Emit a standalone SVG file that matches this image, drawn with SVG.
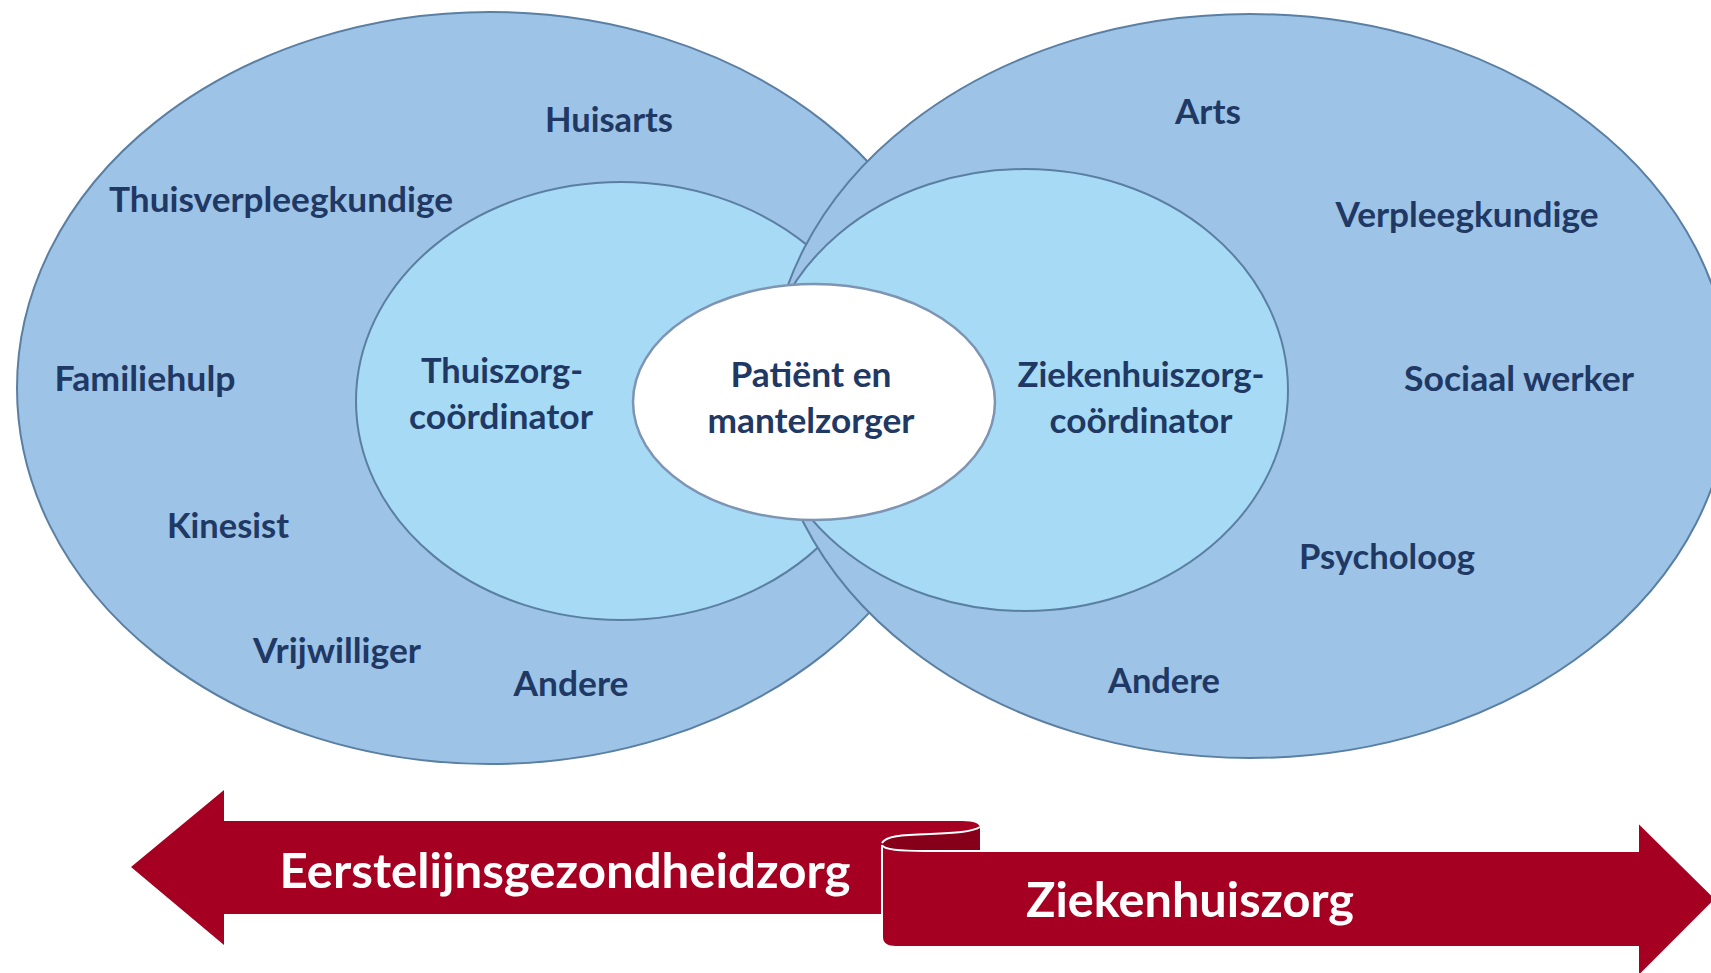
<svg xmlns="http://www.w3.org/2000/svg" width="1711" height="973" viewBox="0 0 1711 973">
<style>
.outer{fill:#9DC3E6;stroke:#5A7FA3;stroke-width:2}
.inner{fill:#A7DAF4;stroke:#5A7FA3;stroke-width:2}
.core{fill:#FFFFFF;stroke:#7D95B3;stroke-width:2.5}
.lbl{font-family:Lato,"Open Sans",sans-serif;font-weight:700;font-size:34px;fill:#1F3864;text-anchor:middle}
.arr{font-family:Lato,"Open Sans",sans-serif;font-weight:700;font-size:48px;fill:#FFFFFF;text-anchor:middle}
.rib{fill:#A50021}
</style>
<rect width="1711" height="973" fill="#FFFFFF"/>
<g id="left-outer"><ellipse class="outer" cx="490" cy="388" rx="473" ry="376"/></g>
<g id="left-inner"><ellipse class="inner" cx="621" cy="401" rx="265" ry="219"/></g>
<g id="right-outer"><ellipse class="outer" cx="1250" cy="386" rx="480" ry="372"/></g>
<g id="right-inner"><ellipse class="inner" cx="1025" cy="390" rx="263" ry="221"/></g>
<g id="center"><ellipse class="core" cx="814" cy="402" rx="181" ry="118"/></g>
<g id="labels-left">
<text class="lbl" x="609" y="132" textLength="128" lengthAdjust="spacingAndGlyphs">Huisarts</text>
<text class="lbl" x="281" y="212" textLength="344" lengthAdjust="spacingAndGlyphs">Thuisverpleegkundige</text>
<text class="lbl" x="145" y="391" textLength="181" lengthAdjust="spacingAndGlyphs">Familiehulp</text>
<text class="lbl" x="228" y="538" textLength="122" lengthAdjust="spacingAndGlyphs">Kinesist</text>
<text class="lbl" x="337" y="663" textLength="168" lengthAdjust="spacingAndGlyphs">Vrijwilliger</text>
<text class="lbl" x="571" y="696" textLength="115" lengthAdjust="spacingAndGlyphs">Andere</text>
</g>
<g id="thuiszorg-coordinator">
<text class="lbl" x="502" y="383" textLength="162" lengthAdjust="spacingAndGlyphs">Thuiszorg-</text>
<text class="lbl" x="501" y="429" textLength="184" lengthAdjust="spacingAndGlyphs">coördinator</text>
</g>
<g id="patient">
<text class="lbl" x="811" y="387" textLength="161" lengthAdjust="spacingAndGlyphs">Patiënt en</text>
<text class="lbl" x="811" y="433" textLength="207" lengthAdjust="spacingAndGlyphs">mantelzorger</text>
</g>
<g id="ziekenhuiszorg-coordinator">
<text class="lbl" x="1141" y="387" textLength="247" lengthAdjust="spacingAndGlyphs">Ziekenhuiszorg-</text>
<text class="lbl" x="1141" y="433" textLength="183" lengthAdjust="spacingAndGlyphs">coördinator</text>
</g>
<g id="labels-right">
<text class="lbl" x="1208" y="124" textLength="66" lengthAdjust="spacingAndGlyphs">Arts</text>
<text class="lbl" x="1467" y="227" textLength="263" lengthAdjust="spacingAndGlyphs">Verpleegkundige</text>
<text class="lbl" x="1519" y="391" textLength="230" lengthAdjust="spacingAndGlyphs">Sociaal werker</text>
<text class="lbl" x="1387" y="569" textLength="176" lengthAdjust="spacingAndGlyphs">Psycholoog</text>
<text class="lbl" x="1164" y="693" textLength="112" lengthAdjust="spacingAndGlyphs">Andere</text>
</g>
<g id="arrow-left">
<path class="rib" d="M131,867 L224,790 L224,821 L962,821 Q980,821 980,828 L980,914 L224,914 L224,945 Z"/>
<text class="arr" x="565" y="888" textLength="571" lengthAdjust="spacingAndGlyphs">Eerstelijnsgezondheidzorg</text>
</g>
<g id="arrow-right">
<path fill="#86001A" d="M882,843 C886,836 900,835 930,834 C955,833 972,832 980,827 L980,860 L882,860 Z"/>
<path fill="none" stroke="#FFFFFF" stroke-width="2" d="M882,843 C886,836 900,835 930,834 C955,833 972,832 980,827"/>
<path class="rib" stroke="#FFFFFF" stroke-width="2" d="M882,845 C884,850 900,851 925,851 L1638,851 L1638,822 L1716,899 L1638,977 L1638,947 L896,947 Q882,947 882,937 Z"/>
<text class="arr" x="1190" y="917" textLength="328" lengthAdjust="spacingAndGlyphs">Ziekenhuiszorg</text>
</g>
</svg>
